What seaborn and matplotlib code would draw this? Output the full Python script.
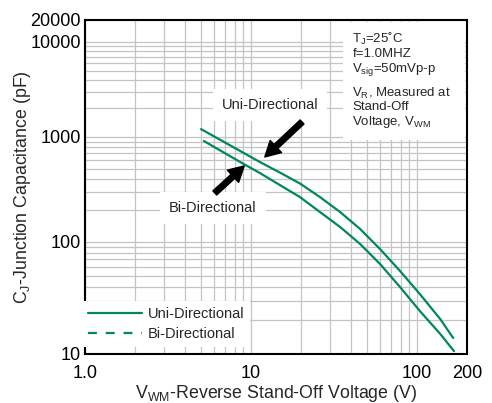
"""Junction capacitance vs reverse stand-off voltage."""

import numpy as np
import pandas as pd
import matplotlib

matplotlib.use("Agg")
import matplotlib.pyplot as plt
from matplotlib.lines import Line2D
from matplotlib.patches import Rectangle
from matplotlib.ticker import FixedLocator, FixedFormatter, LogLocator, NullFormatter
import seaborn as sns

# values
uni_voltage = [5.0, 8.6, 11.3, 14.9, 19.7, 26, 34.4, 45.4, 59.8, 79, 104, 138, 165]
uni_capacitance = [1210, 736, 578, 459, 361, 268, 193, 133, 86.6, 55.1, 34.3, 20.5, 13.9]
bi_voltage = [5.2, 8.6, 11.3, 14.9, 19.7, 26, 34.4, 45.4, 59.8, 79, 104, 138, 167]
bi_capacitance = [916, 578, 454, 349, 268, 193, 139, 96, 63.7, 39.6, 24.2, 15.1, 10.6]

x_ticks = [1, 10, 100, 200]
x_tick_labels = ["1.0", "10", "100", "200"]
y_ticks = [10, 100, 1000, 10000, 20000]
y_tick_labels = ["10", "100", "1000", "10000", "20000"]

GREEN = "#00875A"

# the printed log grid is not quite uniform, decades have different heights
_log_anchor = [-3, 1, 2, 3, 4, np.log10(20000), 8]
_pos_anchor = [-448, 0, 112, 217, 312, 334, 604]


def _fwd(y):
    y = np.clip(np.asarray(y, dtype=float), 1e-3, None)
    return np.interp(np.log10(y), _log_anchor, _pos_anchor)


def _inv(p):
    return 10 ** np.interp(np.asarray(p, dtype=float), _pos_anchor, _log_anchor)


sns.set_theme(style="white")
plt.rcParams["font.family"] = ["Liberation Sans", "DejaVu Sans"]
plt.rcParams["mathtext.fontset"] = "custom"
plt.rcParams["mathtext.rm"] = "Liberation Sans"
plt.rcParams["mathtext.default"] = "regular"

df = pd.concat(
    [
        pd.DataFrame({"V": uni_voltage, "C": uni_capacitance, "type": "Uni-Directional"}),
        pd.DataFrame({"V": bi_voltage, "C": bi_capacitance, "type": "Bi-Directional"}),
    ],
    ignore_index=True,
)

fig = plt.figure(figsize=(4.92, 4.03), dpi=100)
ax = fig.add_axes([0.1728, 0.1216, 0.7764, 0.8288])

ax.set_xscale("log")
ax.set_yscale("function", functions=(_fwd, _inv))
ax.set_xlim(1, 200)
ax.set_ylim(10, 20000)

sns.lineplot(
    data=df, x="V", y="C", hue="type", palette=[GREEN, GREEN],
    estimator=None, sort=False, lw=1.6, legend=False, ax=ax, zorder=3,
)

ax.xaxis.set_major_locator(FixedLocator(x_ticks))
ax.xaxis.set_major_formatter(FixedFormatter(x_tick_labels))
ax.xaxis.set_minor_locator(LogLocator(subs=np.arange(2, 10), numticks=20))
ax.xaxis.set_minor_formatter(NullFormatter())
ax.yaxis.set_major_locator(FixedLocator(y_ticks))
ax.yaxis.set_major_formatter(FixedFormatter(y_tick_labels))
ax.yaxis.set_minor_locator(LogLocator(subs=np.arange(2, 10), numticks=20))
ax.yaxis.set_minor_formatter(NullFormatter())

ax.set_axisbelow(True)
ax.grid(which="both", color="#c4c4c4", lw=0.9)
ax.tick_params(which="both", length=0, labelsize=13, pad=3, colors="black")
ax.tick_params(axis="x", pad=8)
for s in ax.spines.values():
    s.set_color("black")
    s.set_linewidth(1.5)

ax.set_xlabel("V$_{WM}$-Reverse Stand-Off Voltage (V)", fontsize=12.8, labelpad=1)
ax.set_ylabel("C$_{J}$-Junction Capacitance (pF)", fontsize=12.8, labelpad=-2)

# conditions box, top right
ax.add_patch(Rectangle((0.675, 0.641), 0.32, 0.353, transform=ax.transAxes,
                       facecolor="white", edgecolor="none", zorder=1.5))
ax.text(0.70, 0.968, "T$_J$=25˚C\nf=1.0MHZ\nV$_{sig}$=50mVp-p",
        transform=ax.transAxes, fontsize=9.5, va="top", ha="left",
        linespacing=1.1, zorder=4)
ax.text(0.70, 0.803, "V$_R$, Measured at\nStand-Off\nVoltage, V$_{WM}$",
        transform=ax.transAxes, fontsize=9.5, va="top", ha="left",
        linespacing=1.05, zorder=4)

# curve callouts
ax.text(13.0, 2170, "Uni-Directional", fontsize=10.5, ha="center", va="center",
        bbox=dict(boxstyle="square,pad=0.6", facecolor="white", edgecolor="none"),
        zorder=4)
ax.text(5.9, 211, "Bi-Directional", fontsize=10.5, ha="center", va="center",
        bbox=dict(boxstyle="square,pad=0.6", facecolor="white", edgecolor="none"),
        zorder=4)
arrow = dict(facecolor="black", edgecolor="black", width=4, headwidth=12,
             headlength=11, shrink=0)
ax.annotate("", xy=(12.1, 645), xytext=(20.3, 1440), arrowprops=arrow, zorder=5)
ax.annotate("", xy=(9.1, 530), xytext=(6.05, 293), arrowprops=arrow, zorder=5)

handles = [
    Line2D([], [], color=GREEN, lw=1.6),
    Line2D([], [], color=GREEN, lw=1.6, ls=(0, (4, 4))),
]
leg = ax.legend(handles, ["Uni-Directional", "Bi-Directional"], loc="lower left",
                bbox_to_anchor=(-0.026, 0.0), fontsize=10.5, frameon=True,
                fancybox=False, handlelength=3.7, handletextpad=0.4,
                borderaxespad=0.5, labelspacing=0.4)
leg.get_frame().set_facecolor("white")
leg.get_frame().set_edgecolor("none")
leg.get_frame().set_alpha(1)

fig.savefig("out.png", dpi=100)
